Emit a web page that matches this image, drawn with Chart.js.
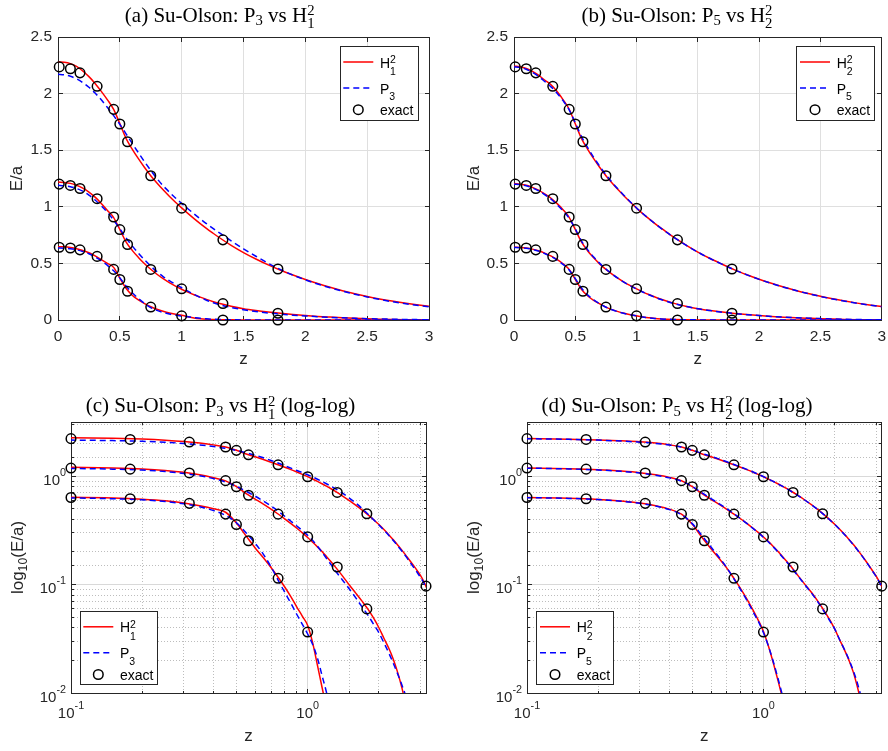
<!DOCTYPE html>
<html>
<head>
<meta charset="utf-8">
<script src="https://cdn.jsdelivr.net/npm/chart.js@4.4.1/dist/chart.umd.min.js"></script>
<style>
body { margin: 0; background: #fff; }
#wrap { position: relative; width: 888px; height: 751px; }
canvas { position: absolute; }
</style>
</head>
<body>
<div id="wrap">
<canvas id="pa" width="444" height="370" style="left:0;top:0"></canvas>
<canvas id="pb" width="444" height="370" style="left:444px;top:0"></canvas>
<canvas id="pc" width="444" height="381" style="left:0;top:370px"></canvas>
<canvas id="pd" width="444" height="381" style="left:444px;top:370px"></canvas>
</div>
<script>
// z positions of the computed curves
const zGrid = [0, 0.05, 0.1, 0.15, 0.2, 0.25, 0.3, 0.35, 0.4, 0.45,
  0.5, 0.55, 0.6, 0.65, 0.7, 0.75, 0.8, 0.85, 0.9, 0.95,
  1, 1.05, 1.1, 1.15, 1.2, 1.25, 1.3, 1.4, 1.5, 1.6,
  1.7, 1.8, 1.9, 2, 2.1, 2.2, 2.3, 2.4, 2.5, 2.6,
  2.7, 2.8, 2.9, 3, 3.1, 3.2];

// Su-Olson benchmark (exact transport), tau = 1, 3.16, 10
const exactZ = [0.01, 0.1, 0.17783, 0.31623, 0.45, 0.5, 0.56234, 0.75, 1.0, 1.33352, 1.77828, 3.16228];
const exactT1 = [0.64308, 0.63585, 0.61958, 0.56187, 0.44711, 0.35801, 0.25374, 0.11430, 0.03648, 0, 0, 0];
const exactT3 = [1.20052, 1.18869, 1.16190, 1.07175, 0.90951, 0.79902, 0.66678, 0.44675, 0.27540, 0.14531, 0.05968, 0];
const exactT10 = [2.23575, 2.21944, 2.18344, 2.06448, 1.86072, 1.73178, 1.57496, 1.27398, 0.98782, 0.70822, 0.45016, 0.09673];

// H_1^2 and P_3
const h12T10 = [2.28, 2.277, 2.265, 2.24, 2.2, 2.15, 2.09, 2.02, 1.945, 1.86,
  1.735, 1.605, 1.51, 1.425, 1.347, 1.275, 1.21, 1.15, 1.093, 1.04,
  0.99, 0.942, 0.896, 0.852, 0.81, 0.77, 0.731, 0.66, 0.596, 0.539,
  0.487, 0.44, 0.397, 0.358, 0.322, 0.289, 0.259, 0.232, 0.208, 0.186,
  0.167, 0.15, 0.135, 0.121, 0.106, 0.091];
const p3T10 = [2.17, 2.166, 2.153, 2.13, 2.098, 2.056, 2.005, 1.945, 1.877, 1.805,
  1.728, 1.645, 1.56, 1.478, 1.398, 1.322, 1.25, 1.186, 1.13, 1.078,
  1.03, 0.983, 0.938, 0.894, 0.852, 0.812, 0.774, 0.7, 0.629, 0.563,
  0.501, 0.445, 0.397, 0.355, 0.318, 0.285, 0.255, 0.228, 0.204, 0.182,
  0.162, 0.145, 0.13, 0.116, 0.103, 0.09];
const h12T3 = [1.218, 1.215, 1.207, 1.19, 1.165, 1.13, 1.085, 1.03, 0.968, 0.905,
  0.8, 0.69, 0.615, 0.553, 0.497, 0.448, 0.404, 0.365, 0.331, 0.3,
  0.272, 0.246, 0.223, 0.202, 0.182, 0.164, 0.148, 0.121, 0.099, 0.083,
  0.07, 0.059, 0.049, 0.04, 0.032, 0.026, 0.0205, 0.0155, 0.0112, 0.0077,
  0.005, 0.0031, 0.0019, 0.0011, 0.0006, 0.0003];
const p3T3 = [1.19, 1.186, 1.178, 1.162, 1.138, 1.104, 1.06, 1.008, 0.95, 0.882,
  0.806, 0.726, 0.655, 0.59, 0.531, 0.476, 0.427, 0.384, 0.347, 0.315,
  0.285, 0.255, 0.226, 0.199, 0.175, 0.155, 0.137, 0.111, 0.091, 0.075,
  0.062, 0.052, 0.043, 0.036, 0.029, 0.0235, 0.0188, 0.015, 0.0119, 0.0093,
  0.007, 0.005, 0.0034, 0.0022, 0.0013, 0.0007];
const h12T1 = [0.648, 0.646, 0.64, 0.63, 0.614, 0.594, 0.566, 0.533, 0.5, 0.465,
  0.37, 0.28, 0.218, 0.177, 0.144, 0.117, 0.095, 0.077, 0.062, 0.051,
  0.042, 0.029, 0.018, 0.0113, 0.0073, 0.0048, 0.0032, 0.0015, 0.0007, 0.0003,
  0.0002, 0.0001, 0.0001, 0.0001, 0.0001, 0.0001, 0.0001, 0.0001, 0.0001, 0.0001,
  0.0001, 0.0001, 0.0001, 0.0001, 0.0001, 0.0001];
const p3T1 = [0.636, 0.634, 0.629, 0.62, 0.605, 0.585, 0.556, 0.522, 0.482, 0.435,
  0.372, 0.3, 0.24, 0.19, 0.146, 0.11, 0.085, 0.067, 0.053, 0.043,
  0.035, 0.028, 0.021, 0.0145, 0.0102, 0.0068, 0.0045, 0.002, 0.0009, 0.0004,
  0.0002, 0.0001, 0.0001, 0.0001, 0.0001, 0.0001, 0.0001, 0.0001, 0.0001, 0.0001,
  0.0001, 0.0001, 0.0001, 0.0001, 0.0001, 0.0001];

// H_2^2 and P_5
const h22T10 = [2.242, 2.237, 2.222, 2.197, 2.163, 2.12, 2.08, 2.02, 1.947, 1.862,
  1.733, 1.605, 1.51, 1.425, 1.347, 1.275, 1.21, 1.15, 1.094, 1.04,
  0.988, 0.94, 0.895, 0.852, 0.811, 0.772, 0.734, 0.664, 0.6, 0.543,
  0.492, 0.443, 0.4, 0.36, 0.324, 0.291, 0.261, 0.234, 0.209, 0.187,
  0.167, 0.149, 0.133, 0.119, 0.105, 0.092];
const p5T10 = [2.236, 2.231, 2.215, 2.188, 2.152, 2.108, 2.062, 2.005, 1.938, 1.857,
  1.742, 1.622, 1.524, 1.437, 1.357, 1.283, 1.216, 1.155, 1.098, 1.043,
  0.99, 0.941, 0.895, 0.852, 0.81, 0.771, 0.733, 0.663, 0.6, 0.543,
  0.491, 0.442, 0.399, 0.359, 0.323, 0.29, 0.26, 0.233, 0.208, 0.186,
  0.166, 0.148, 0.132, 0.118, 0.104, 0.091];
const h22T3 = [1.205, 1.2, 1.19, 1.172, 1.148, 1.115, 1.078, 1.03, 0.975, 0.907,
  0.8, 0.69, 0.612, 0.549, 0.494, 0.447, 0.405, 0.367, 0.333, 0.303,
  0.275, 0.249, 0.225, 0.203, 0.183, 0.165, 0.149, 0.121, 0.1, 0.084,
  0.07, 0.058, 0.048, 0.039, 0.031, 0.025, 0.02, 0.0155, 0.0112, 0.0078,
  0.0052, 0.0033, 0.002, 0.0011, 0.0005, 0.0002];
const p5T3 = [1.2, 1.196, 1.186, 1.167, 1.142, 1.108, 1.07, 1.02, 0.965, 0.9,
  0.805, 0.7, 0.622, 0.556, 0.5, 0.45, 0.406, 0.367, 0.332, 0.301,
  0.273, 0.247, 0.223, 0.201, 0.181, 0.163, 0.147, 0.12, 0.099, 0.083,
  0.069, 0.057, 0.047, 0.039, 0.031, 0.0252, 0.0203, 0.016, 0.0122, 0.0088,
  0.006, 0.004, 0.0025, 0.0015, 0.0008, 0.0004];
const h22T1 = [0.643, 0.641, 0.636, 0.626, 0.611, 0.591, 0.566, 0.535, 0.497, 0.447,
  0.36, 0.272, 0.214, 0.174, 0.142, 0.114, 0.092, 0.074, 0.059, 0.047,
  0.037, 0.027, 0.019, 0.0132, 0.0092, 0.0064, 0.0044, 0.002, 0.0009, 0.0004,
  0.0002, 0.0001, 0.0001, 0.0001, 0.0001, 0.0001, 0.0001, 0.0001, 0.0001, 0.0001,
  0.0001, 0.0001, 0.0001, 0.0001, 0.0001, 0.0001];
const p5T1 = [0.641, 0.639, 0.634, 0.624, 0.609, 0.588, 0.562, 0.53, 0.492, 0.442,
  0.365, 0.283, 0.222, 0.178, 0.143, 0.113, 0.09, 0.072, 0.057, 0.046,
  0.036, 0.027, 0.0195, 0.0138, 0.0097, 0.0068, 0.0047, 0.0021, 0.001, 0.0005,
  0.0002, 0.0001, 0.0001, 0.0001, 0.0001, 0.0001, 0.0001, 0.0001, 0.0001, 0.0001,
  0.0001, 0.0001, 0.0001, 0.0001, 0.0001, 0.0001];

const SANS = "'Liberation Sans', Arial, Helvetica, sans-serif";
const SERIF = "'Liberation Serif', 'Times New Roman', serif";
const INK = '#262626';

function isDecade(v) {
    const l = Math.log10(v);
    return Math.abs(l - Math.round(l)) < 1e-6;
}

// text with sub/superscripts; parts are strings or {sub, sup}
function rich(ctx, parts, x, y, st) {
    const small = st.size * st.scale;
    const font = s => s + 'px ' + st.family;
    const widths = parts.map(p => {
        if (typeof p === 'string') {
            ctx.font = font(st.size);
            return ctx.measureText(p).width;
        }
        ctx.font = font(small);
        return Math.max(p.sub ? ctx.measureText(p.sub).width : 0, p.sup ? ctx.measureText(p.sup).width : 0);
    });
    const w = widths.reduce((a, b) => a + b, 0);
    let cx = st.align === 'center' ? x - w / 2 : st.align === 'right' ? x - w : x;
    ctx.fillStyle = st.color || INK;
    ctx.textAlign = 'left';
    ctx.textBaseline = 'alphabetic';
    parts.forEach((p, i) => {
        if (typeof p === 'string') {
            ctx.font = font(st.size);
            ctx.fillText(p, cx, y);
        } else {
            ctx.font = font(small);
            if (p.sub) ctx.fillText(p.sub, cx, y + (p.sup ? st.sub2 : st.sub));
            if (p.sup) ctx.fillText(p.sup, cx, y - st.sup);
        }
        cx += widths[i];
    });
}

const titleSt = { size: 21, family: SERIF, scale: 0.7, sub: 3.5, sub2: 6.5, sup: 6.5, align: 'center', color: '#000' };
const legendSt = { size: 14, family: SANS, scale: 0.75, sub: 6.5, sub2: 7.5, sup: 4.5, color: '#000' };
const labelSt = { size: 17, family: SANS, scale: 0.72, sub: 4, sub2: 4, sup: 6, align: 'center' };
const logTickSt = { size: 15, family: SANS, scale: 0.72, sub: 3, sub2: 3, sup: 9 };

const specs = {
    pa: { area: [58, 429, 37, 320], log: false, tx: 219.7, ty: 21.7,
          title: ['(a) Su-Olson: P', { sub: '3' }, ' vs H', { sub: '1', sup: '2' }],
          ylab: ['E/a'], yx: 22, zy: 363.5, hs: '1', ps: '3',
          legend: { x: 340, y: 46.7, w: 78.3, h: 74 } },
    pb: { area: [70, 442, 37, 320], log: false, tx: 233, ty: 21.7,
          title: ['(b) Su-Olson: P', { sub: '5' }, ' vs H', { sub: '2', sup: '2' }],
          ylab: ['E/a'], yx: 35, zy: 363.5, hs: '2', ps: '5',
          legend: { x: 352.7, y: 46.7, w: 78.3, h: 74 } },
    pc: { area: [71, 426, 52, 323], log: true, tx: 220.5, ty: 42.3,
          title: ['(c) Su-Olson: P', { sub: '3' }, ' vs H', { sub: '1', sup: '2' }, ' (log-log)'],
          ylab: ['log', { sub: '10' }, '(E/a)'], yx: 22.5, zy: 370.7, hs: '1', ps: '3',
          legend: { x: 80, y: 241.5, w: 77, h: 72.5 } },
    pd: { area: [83, 439, 52, 323], log: true, tx: 233, ty: 42.3,
          title: ['(d) Su-Olson: P', { sub: '5' }, ' vs H', { sub: '2', sup: '2' }, ' (log-log)'],
          ylab: ['log', { sub: '10' }, '(E/a)'], yx: 35, zy: 370.7, hs: '2', ps: '5',
          legend: { x: 92.7, y: 241.5, w: 77, h: 72.5 } }
};

const al = p => Math.round(p - 0.5) + 0.5;

const deco = {
    id: 'deco',
    beforeDatasetsDraw(chart) {
        const sp = specs[chart.canvas.id];
        const { ctx, chartArea: a } = chart;
        const L = al(a.left), R = al(a.right), T = al(a.top), B = al(a.bottom);
        ctx.save();
        ctx.strokeStyle = INK;
        ctx.lineWidth = 1;
        ctx.setLineDash([]);
        ctx.strokeRect(L, T, R - L, B - T);
        ctx.beginPath();
        ['x', 'y'].forEach(id => {
            const s = chart.scales[id];
            s.ticks.forEach(t => {
                const len = (!sp.log || isDecade(t.value)) ? 4.5 : 2.5;
                const p = al(s.getPixelForValue(t.value));
                if (id === 'x') {
                    ctx.moveTo(p, B); ctx.lineTo(p, B - len);
                    ctx.moveTo(p, T); ctx.lineTo(p, T + len);
                } else {
                    ctx.moveTo(L, p); ctx.lineTo(L + len, p);
                    ctx.moveTo(R, p); ctx.lineTo(R - len, p);
                }
            });
        });
        ctx.stroke();
        ctx.restore();
    },
    afterDraw(chart) {
        const sp = specs[chart.canvas.id];
        const { ctx, chartArea: a } = chart;
        ctx.save();
        rich(ctx, sp.title, sp.tx, sp.ty, titleSt);
        rich(ctx, ['z'], (a.left + a.right) / 2, sp.zy, labelSt);
        ctx.save();
        ctx.translate(sp.yx, (a.top + a.bottom) / 2);
        ctx.rotate(-Math.PI / 2);
        rich(ctx, sp.ylab, 0, 0, labelSt);
        ctx.restore();

        if (sp.log) {
            chart.scales.x.ticks.forEach(t => {
                if (!isDecade(t.value)) return;
                const e = String(Math.round(Math.log10(t.value)));
                rich(ctx, ['10', { sup: e }], chart.scales.x.getPixelForValue(t.value), a.bottom + 25,
                     Object.assign({}, logTickSt, { align: 'center' }));
            });
            chart.scales.y.ticks.forEach(t => {
                if (!isDecade(t.value)) return;
                const e = String(Math.round(Math.log10(t.value)));
                rich(ctx, ['10', { sup: e }], a.left - 5, chart.scales.y.getPixelForValue(t.value) + 8.5,
                     Object.assign({}, logTickSt, { align: 'right' }));
            });
        }

        // legend box
        const lg = sp.legend;
        ctx.fillStyle = '#fff';
        ctx.fillRect(lg.x, lg.y, lg.w, lg.h);
        ctx.strokeStyle = INK;
        ctx.lineWidth = 1;
        ctx.strokeRect(al(lg.x), al(lg.y), Math.round(lg.w), Math.round(lg.h));
        const ds = chart.data.datasets;
        const rows = [
            { d: ds[0], parts: ['H', { sub: sp.hs, sup: '2' }], dy: 15.3 },
            { d: ds[3], parts: ['P', { sub: sp.ps }], dy: 41.3 },
            { d: ds[6], parts: ['exact'], dy: 63 }
        ];
        rows.forEach(r => {
            const yy = lg.y + r.dy;
            if (r.d.showLine === false) {
                ctx.setLineDash([]);
                ctx.strokeStyle = r.d.pointBorderColor;
                ctx.lineWidth = r.d.pointBorderWidth;
                ctx.beginPath();
                ctx.arc(lg.x + 18.3, yy, r.d.pointRadius, 0, Math.PI * 2);
                ctx.stroke();
            } else {
                ctx.setLineDash(r.d.borderDash);
                ctx.strokeStyle = r.d.borderColor;
                ctx.lineWidth = r.d.borderWidth;
                ctx.beginPath();
                ctx.moveTo(lg.x + 3.3, yy);
                ctx.lineTo(lg.x + 33.3, yy);
                ctx.stroke();
            }
            ctx.setLineDash([]);
            rich(ctx, r.parts, lg.x + 40, yy + 5.5, legendSt);
        });
        ctx.restore();
    }
};

function points(xs, ys, log) {
    const out = [];
    xs.forEach((x, i) => {
        if (!log || (x > 0 && ys[i] > 0)) out.push({ x: x, y: ys[i] });
    });
    return out;
}

function buildDatasets(hSet, pSet, log) {
    const sets = [];
    hSet.forEach(ys => sets.push({
        data: points(zGrid, ys, log), borderColor: '#ff0000', borderWidth: 1.5, borderDash: [],
        pointRadius: 0, fill: false, cubicInterpolationMode: 'monotone', order: 3
    }));
    pSet.forEach(ys => sets.push({
        data: points(zGrid, ys, log), borderColor: '#0000ff', borderWidth: 1.5, borderDash: [6, 4],
        pointRadius: 0, fill: false, cubicInterpolationMode: 'monotone', order: 2
    }));
    [exactT1, exactT3, exactT10].forEach(ys => sets.push({
        data: points(exactZ, ys, log), showLine: false, pointStyle: 'circle', pointRadius: 4.8,
        pointBorderWidth: 1.5, pointBorderColor: '#000', pointBackgroundColor: 'rgba(0,0,0,0)',
        order: 1, clip: log ? false : { left: 10, top: 10, right: 0, bottom: 10 }
    }));
    return sets;
}

const fmtTick = v => String(Math.round(v * 100) / 100);

function makeChart(id, hSet, pSet) {
    const sp = specs[id];
    const canvas = document.getElementById(id);
    const [L, R, T, B] = sp.area;
    const W = canvas.width, H = canvas.height;
    const log = sp.log;
    const gridLin = { color: '#dfdfdf', lineWidth: 1, drawTicks: false };
    const gridLog = {
        color: c => (c.tick && isDecade(c.tick.value)) ? '#d9d9d9' : '#bdbdbd',
        lineWidth: 1, drawTicks: false
    };
    const borderLog = { display: false, dash: c => (c.tick && !isDecade(c.tick.value)) ? [1, 2] : [] };
    const tickFont = { size: 15.5, family: SANS };

    const x = log
        ? { type: 'logarithmic', min: 0.1, max: 3.16228, grid: gridLog, border: borderLog, ticks: { display: false } }
        : { type: 'linear', min: 0, max: 3, grid: gridLin, border: { display: false },
            ticks: { stepSize: 0.5, color: INK, font: tickFont, padding: 7, autoSkip: false, maxRotation: 0, callback: fmtTick } };
    const y = log
        ? { type: 'logarithmic', min: 0.01, max: 3.16228, grid: gridLog, border: borderLog, ticks: { display: false } }
        : { type: 'linear', min: 0, max: 2.5, grid: gridLin, border: { display: false },
            ticks: { stepSize: 0.5, color: INK, font: tickFont, padding: 6, autoSkip: false, callback: fmtTick } };
    x.afterFit = s => { s.height = H - B; s.paddingLeft = 0; s.paddingRight = 0; };
    y.afterFit = s => { s.width = L; s.paddingTop = 0; s.paddingBottom = 0; };

    new Chart(canvas.getContext('2d'), {
        type: 'line',
        data: { datasets: buildDatasets(hSet, pSet, log) },
        options: {
            responsive: false,
            devicePixelRatio: 1,
            animation: false,
            events: [],
            layout: { padding: { left: 0, top: T, right: W - R, bottom: 0 } },
            scales: { x: x, y: y },
            plugins: { legend: { display: false }, title: { display: false }, tooltip: { enabled: false } }
        },
        plugins: [deco]
    });
}

makeChart('pa', [h12T1, h12T3, h12T10], [p3T1, p3T3, p3T10]);
makeChart('pb', [h22T1, h22T3, h22T10], [p5T1, p5T3, p5T10]);
makeChart('pc', [h12T1, h12T3, h12T10], [p3T1, p3T3, p3T10]);
makeChart('pd', [h22T1, h22T3, h22T10], [p5T1, p5T3, p5T10]);
</script>
</body>
</html>
